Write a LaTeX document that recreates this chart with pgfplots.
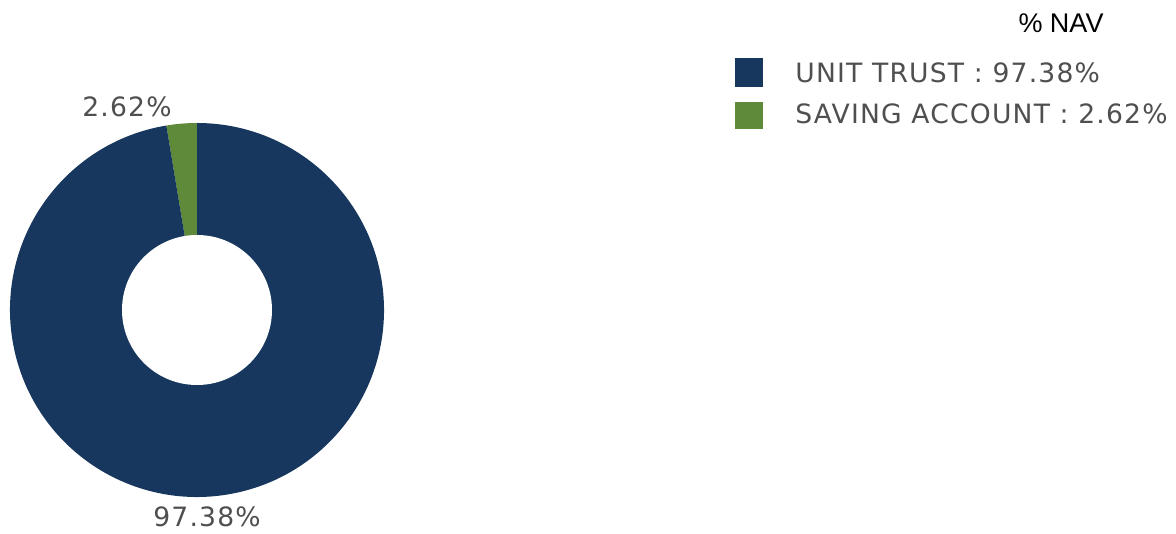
\documentclass[border=0pt]{standalone}
\usepackage{pgfplots}
\pgfplotsset{compat=1.18}
\usepackage{fontspec}
\setmainfont[LetterSpace=4.5]{DejaVu Sans}
\newfontfamily\navfont{Liberation Sans}

\definecolor{unitnavy}{HTML}{17375E}
\definecolor{savegreen}{HTML}{5E8A3A}
\definecolor{labelgray}{HTML}{4F4F4F}

% share of NAV (%)
\def\unittrust{97.38}
\def\saving{2.62}
% slices start at 12 o'clock and run counter-clockwise
\pgfmathsetmacro\angA{90}
\pgfmathsetmacro\angB{90+\saving*3.6}
\pgfmathsetmacro\angC{\angB+\unittrust*3.6}

\begin{document}
\begin{tikzpicture}
\begin{axis}[
    scale only axis,
    width=588pt, height=267pt,
    xmin=0, xmax=1176, ymin=0, ymax=534,
    hide axis, clip=false,
    font=\fontsize{13.3}{15}\selectfont,
]
% donut (1 unit = 0.5pt)
\fill[savegreen] (axis cs:197,224) -- ++(\angA:93.5pt)
    arc[start angle=\angA, end angle=\angB, radius=93.5pt] -- cycle;
\fill[unitnavy] (axis cs:197,224) -- ++(\angB:93.5pt)
    arc[start angle=\angB, end angle=\angC, radius=93.5pt] -- cycle;
\fill[white] (axis cs:197,224) circle[radius=37.5pt];

% slice labels
\node[labelgray, anchor=base, inner sep=0pt] at (axis cs:127,417) {2.62\%};
\node[labelgray, anchor=base, inner sep=0pt] at (axis cs:207,7) {97.38\%};

% legend
\node[anchor=base, inner sep=0pt, font=\navfont\fontsize{13.5}{15}\selectfont] at (axis cs:1061,501) {\% NAV};
\fill[unitnavy] (axis cs:735,476) rectangle (axis cs:763,447);
\fill[savegreen] (axis cs:735,432) rectangle (axis cs:763,405);
\node[labelgray, anchor=base west, inner sep=0pt] at (axis cs:795,451) {UNIT TRUST : 97.38\%};
\node[labelgray, anchor=base west, inner sep=0pt] at (axis cs:795,410) {SAVING ACCOUNT : 2.62\%};
\end{axis}
\pgfresetboundingbox
\path (current axis.south west) rectangle (current axis.north east);
\end{tikzpicture}
\end{document}
